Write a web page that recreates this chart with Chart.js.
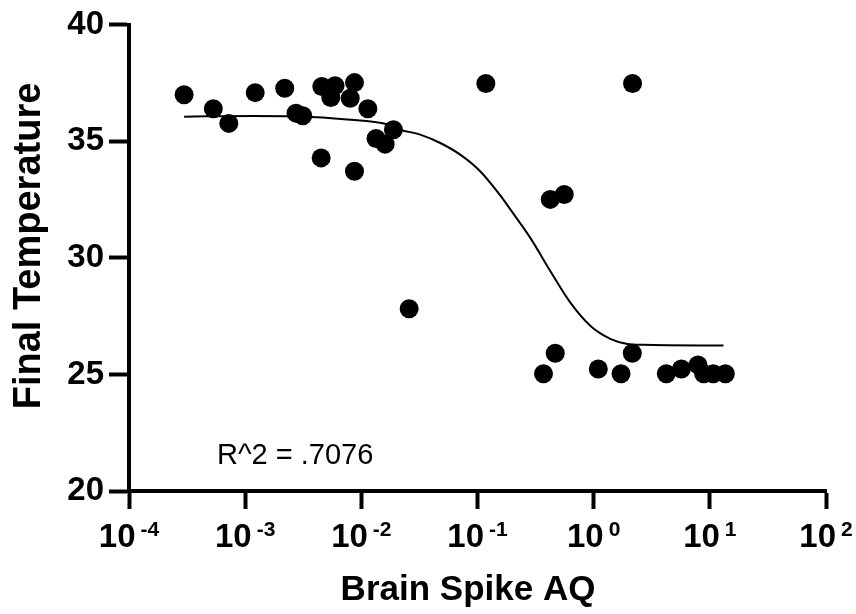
<!DOCTYPE html>
<html lang="en">
<head>
<meta charset="UTF-8">
<title>Final Temperature vs Brain Spike AQ</title>
<script src="https://cdn.jsdelivr.net/npm/chart.js"></script>
<style>
  body { margin: 0; background: #fff; }
  #wrap { width: 856px; height: 614px; }
</style>
</head>
<body>
<div id="wrap"><canvas id="tempChart" width="856" height="614"></canvas></div>
<script>
  // measured points (Brain Spike AQ, Final Temperature)
  var spikeAQ = [0.000298, 0.000532, 0.000723, 0.00122, 0.00219, 0.00274, 0.00313, 0.00457, 0.00594, 0.00546,
                 0.00873, 0.00802, 0.01138, 0.00451, 0.00873, 0.01888, 0.01339, 0.01603, 0.118, 2.16,
                 0.423, 0.558, 0.0258, 0.467, 0.370, 1.096, 1.72, 2.15, 4.22, 5.69,
                 7.91, 8.85, 10.7, 13.6];
  var finalTemp = [37.0, 36.4, 35.77, 37.09, 37.28, 36.21, 36.1, 37.35, 37.39, 36.88,
                   37.52, 36.85, 36.4, 34.29, 33.72, 35.5, 35.12, 34.88, 37.48, 37.48,
                   32.51, 32.72, 27.82, 25.91, 25.03, 25.23, 25.03, 25.91, 25.03, 25.23,
                   25.41, 25.03, 25.03, 25.03];

  // fitted curve
  var fitAQ = [0.000298, 0.00117, 0.00297, 0.00755, 0.01667, 0.0216, 0.0321, 0.0478, 0.071, 0.1054,
               0.157, 0.191, 0.284, 0.423, 0.628, 0.935, 1.39, 1.95, 2.67, 13.1];
  var fitTemp = [36.06, 36.09, 36.07, 35.94, 35.73, 35.5, 35.29, 34.93, 34.43, 33.72,
                 32.68, 32.09, 30.87, 29.44, 28.09, 27.09, 26.53, 26.31, 26.27, 26.24];

  var yTicks = [20, 25, 30, 35, 40];
  var xTickExponents = [-4, -3, -2, -1, 0, 1, 2];
  var xTitle = 'Brain Spike AQ';
  var yTitle = 'Final Temperature';
  var rSquaredLabel = 'R^2 = .7076';

  var FONT = '"Liberation Sans", Arial, Helvetica, sans-serif';

  var points = spikeAQ.map(function(x, i) { return {x: x, y: finalTemp[i]}; });
  var curve = fitAQ.map(function(x, i) { return {x: x, y: fitTemp[i]}; });

  // power-of-ten tick labels, axis titles and the R^2 note
  var chartText = {
    id: 'chartText',
    afterDraw: function(chart) {
      var ctx = chart.ctx, xs = chart.scales.x, area = chart.chartArea;
      ctx.save();
      ctx.fillStyle = '#000';
      ctx.textAlign = 'left';
      ctx.textBaseline = 'alphabetic';
      xTickExponents.forEach(function(e) {
        var px = xs.getPixelForValue(Math.pow(10, e));
        ctx.font = 'bold 33px ' + FONT;
        var wBase = ctx.measureText('10').width;
        ctx.font = 'bold 21px ' + FONT;
        var wExp = ctx.measureText(String(e)).width;
        var left = px - (wBase + 5 + wExp) / 2;
        ctx.font = 'bold 33px ' + FONT;
        ctx.fillText('10', left, area.bottom + 56);
        ctx.font = 'bold 21px ' + FONT;
        ctx.fillText(String(e), left + wBase + 5, area.bottom + 45);
      });

      ctx.font = '29px ' + FONT;
      ctx.fillText(rSquaredLabel, area.left + 88, area.bottom - 27);

      ctx.textAlign = 'center';
      ctx.textBaseline = 'middle';
      ctx.font = 'bold 35px ' + FONT;
      ctx.fillText(xTitle, 468, 590);

      ctx.translate(30, 246);
      ctx.rotate(-Math.PI / 2);
      ctx.font = 'bold 38px ' + FONT;
      ctx.fillText(yTitle, 0, 0);
      ctx.restore();
    }
  };

  var ctx = document.getElementById('tempChart').getContext('2d');
  var tempChart = new Chart(ctx, {
    type: 'scatter',
    data: {
      datasets: [
        {
          label: 'Final Temperature',
          data: points,
          backgroundColor: '#000',
          pointRadius: 9.5,
          pointBorderWidth: 0
        },
        {
          label: 'Fit',
          data: curve,
          showLine: true,
          fill: false,
          borderColor: '#000',
          borderWidth: 2,
          pointRadius: 0,
          cubicInterpolationMode: 'monotone'
        }
      ]
    },
    options: {
      responsive: false,
      animation: false,
      devicePixelRatio: 1,
      layout: { padding: { top: 23, right: 30, left: 0, bottom: 0 } },
      plugins: {
        legend: { display: false },
        tooltip: { enabled: false }
      },
      scales: {
        x: {
          type: 'logarithmic',
          min: 1e-4,
          max: 1e2,
          afterBuildTicks: function(scale) {
            scale.ticks = xTickExponents.map(function(e) { return {value: Math.pow(10, e)}; });
          },
          afterFit: function(scale) { scale.height = 123; },
          border: { display: true, color: '#000', width: 4 },
          grid: { drawOnChartArea: false, drawTicks: true, tickLength: 18, tickWidth: 4, tickColor: '#000' },
          ticks: { display: false },
          title: { display: false }
        },
        y: {
          min: 20,
          max: 40,
          afterBuildTicks: function(scale) {
            scale.ticks = yTicks.map(function(v) { return {value: v}; });
          },
          afterFit: function(scale) { scale.width = 129; },
          border: { display: true, color: '#000', width: 4 },
          grid: { drawOnChartArea: false, drawTicks: true, tickLength: 20, tickWidth: 4, tickColor: '#000' },
          ticks: {
            color: '#000',
            padding: 5,
            font: { family: FONT, size: 33, weight: 'bold' }
          },
          title: { display: false }
        }
      }
    },
    plugins: [chartText]
  });
</script>
</body>
</html>
